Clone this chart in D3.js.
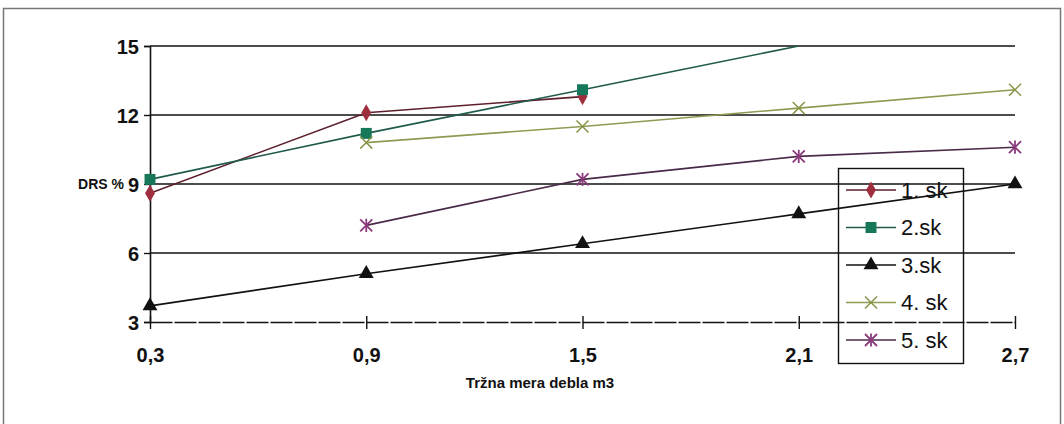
<!DOCTYPE html>
<meta charset="utf-8">
<html>
<head>
<script src="https://cdnjs.cloudflare.com/ajax/libs/d3/7.8.5/d3.min.js"></script>
<style>
  body { margin: 0; background: #fff; }
  text { font-family: "Liberation Sans", Arial, sans-serif; font-weight: bold; fill: #111; }
</style>
</head>
<body>
<div id="chart"></div>
<script>
// x categories (m3) and tick labels
var xValues = [0.3, 0.9, 1.5, 2.1, 2.7];
var xLabels = ["0,3", "0,9", "1,5", "2,1", "2,7"];
var yTicks = [3, 6, 9, 12, 15];

// DRS % per class, null = no point
var names = ["1. sk", "2.sk", "3.sk", "4. sk", "5. sk"];
var sk1 = [8.6, 12.1, 12.8, null, null];
var sk2 = [9.2, 11.2, 13.1, 15.0, null];
var sk3 = [3.7, 5.1, 6.4, 7.7, 9.0];
var sk4 = [null, 10.8, 11.5, 12.3, 13.1];
var sk5 = [null, 7.2, 9.2, 10.2, 10.6];

var lineColors = ["#5e1f2c", "#1f5a4c", "#111111", "#8e9a52", "#4a2a48"];
var markColors = ["#9e2e3e", "#17775a", "#111111", "#8a9448", "#8a3a7c"];
var shapes = ["diamond", "square", "triangle", "x", "star"];

var series = [sk1, sk2, sk3, sk4, sk5].map(function(v, i) {
  return { name: names[i], values: v, line: lineColors[i], mark: markColors[i], shape: shapes[i] };
});

var width = 1064, height = 424;
var svg = d3.select("#chart").append("svg")
  .attr("width", width).attr("height", height);

// outer frame (bottom runs off the picture)
svg.append("path")
  .attr("d", "M3.5,430 L3.5,8.5 L1060.5,8.5 L1060.5,430")
  .attr("fill", "none").attr("stroke", "#777").attr("stroke-width", 1.5);

var x = d3.scalePoint().domain(xValues).range([150, 1015]);
var y = d3.scaleLinear().domain([3, 15]).range([322, 46]);

// horizontal gridlines
svg.append("g").selectAll("line")
  .data(yTicks.slice(1))
  .enter().append("line")
  .attr("x1", 150).attr("x2", 1015)
  .attr("y1", function(d) { return y(d); }).attr("y2", function(d) { return y(d); })
  .attr("stroke", "#111").attr("stroke-width", 1.6);

// y axis
var yAxis = svg.append("g").attr("transform", "translate(150,0)")
  .call(d3.axisLeft(y).tickValues(yTicks).tickSize(6).tickPadding(5));
yAxis.select(".domain").attr("stroke", "#111").attr("stroke-width", 1.6);
yAxis.selectAll(".tick line").attr("stroke", "#111").attr("stroke-width", 1.4);
yAxis.selectAll("text").style("font-size", "20px").attr("dy", "0.36em");

// x axis
var xAxis = svg.append("g").attr("transform", "translate(0," + y(3) + ")")
  .call(d3.axisBottom(x).tickFormat(function(d, i) { return xLabels[i]; }).tickSizeInner(7).tickSizeOuter(0).tickPadding(19));
xAxis.select(".domain").attr("stroke", "#111").attr("stroke-width", 1.4).attr("stroke-dasharray", "22,2");
xAxis.selectAll(".tick line").attr("stroke", "#111").attr("stroke-width", 1.4).attr("y1", -6);
xAxis.selectAll("text").style("font-size", "20px");

svg.append("text").attr("x", 124).attr("y", 189).attr("text-anchor", "end")
  .style("font-size", "14px").text("DRS %");
svg.append("text").attr("x", 540).attr("y", 388).attr("text-anchor", "middle")
  .style("font-size", "15px").text("Tržna mera debla m3");

function marker(g, shape, color, size) {
  var s = size;
  if (shape === "diamond") {
    g.append("path").attr("d", d3.symbol().type(d3.symbolDiamond).size(s * 7)()).attr("fill", color);
  } else if (shape === "square") {
    g.append("path").attr("d", d3.symbol().type(d3.symbolSquare).size(s * 10)()).attr("fill", color);
  } else if (shape === "triangle") {
    g.append("path").attr("d", d3.symbol().type(d3.symbolTriangle).size(s * 8)()).attr("fill", color);
  } else if (shape === "x") {
    g.append("path").attr("d", d3.symbol().type(d3.symbolTimes).size(s * 8)())
      .attr("fill", "none").attr("stroke", color).attr("stroke-width", 1.5);
  } else {
    g.append("path").attr("d", d3.symbol().type(d3.symbolTimes).size(s * 8)())
      .attr("fill", "none").attr("stroke", color).attr("stroke-width", 1.8);
    g.append("line").attr("x1", 0).attr("x2", 0).attr("y1", -s * 0.55).attr("y2", s * 0.55)
      .attr("stroke", color).attr("stroke-width", 1.8);
  }
}

var line = d3.line()
  .defined(function(d) { return d.v !== null; })
  .x(function(d) { return x(d.x); })
  .y(function(d) { return y(d.v); });

series.forEach(function(s) {
  var pts = s.values.map(function(v, i) { return { x: xValues[i], v: v }; });
  svg.append("path").datum(pts)
    .attr("d", line)
    .attr("fill", "none").attr("stroke", s.line).attr("stroke-width", 1.6);
  pts.filter(function(p) { return p.v !== null && p.v < 15; }).forEach(function(p) {
    var g = svg.append("g").attr("transform", "translate(" + x(p.x) + "," + y(p.v) + ")");
    marker(g, s.shape, s.mark, 12);
  });
});

// legend
var lg = svg.append("g").attr("transform", "translate(838,168)");
lg.append("rect").attr("x", 0.5).attr("y", 0.5).attr("width", 125).attr("height", 195)
  .attr("fill", "none").attr("stroke", "#111").attr("stroke-width", 1.4);
series.forEach(function(s, i) {
  var yy = 22 + i * 37.5;
  lg.append("line").attr("x1", 8).attr("x2", 58).attr("y1", yy).attr("y2", yy)
    .attr("stroke", s.line).attr("stroke-width", 1.6);
  var g = lg.append("g").attr("transform", "translate(33," + yy + ")");
  marker(g, s.shape, s.mark, 12);
  lg.append("text").attr("x", 63).attr("y", yy).attr("dy", "0.36em")
    .style("font-size", "22px").style("font-weight", "normal").text(s.name);
});
</script>
</body>
</html>
